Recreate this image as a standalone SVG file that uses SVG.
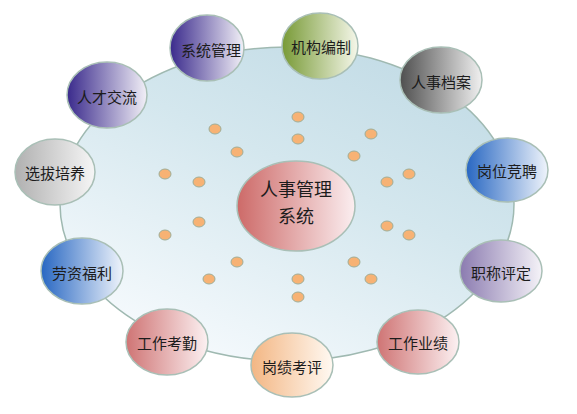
<svg xmlns="http://www.w3.org/2000/svg" width="577" height="414" viewBox="0 0 577 414">
<defs>
<linearGradient id="gBig" x1="0.2" y1="0.95" x2="0.8" y2="0.05">
<stop offset="0" stop-color="#f6fafd"/><stop offset="0.6" stop-color="#d4e7ee"/><stop offset="1" stop-color="#c3dce6"/>
</linearGradient>
<linearGradient id="gCenter" x1="0" y1="0" x2="1" y2="0">
<stop offset="0" stop-color="#cd6a68"/><stop offset="1" stop-color="#fbeef0"/>
</linearGradient>
<linearGradient id="gPurpleD" x1="0" y1="0" x2="1" y2="0">
<stop offset="0" stop-color="#3a2a8c"/><stop offset="1" stop-color="#f2f0f7"/>
</linearGradient>
<linearGradient id="gGreen" x1="0" y1="0" x2="1" y2="0">
<stop offset="0" stop-color="#789a36"/><stop offset="1" stop-color="#f5f7ea"/>
</linearGradient>
<linearGradient id="gGrayD" x1="0" y1="0" x2="1" y2="0">
<stop offset="0" stop-color="#4f4f4f"/><stop offset="1" stop-color="#f0f0f0"/>
</linearGradient>
<linearGradient id="gBlue" x1="0" y1="0" x2="1" y2="0">
<stop offset="0" stop-color="#2867c2"/><stop offset="1" stop-color="#eff4fb"/>
</linearGradient>
<linearGradient id="gPurpleL" x1="0" y1="0" x2="1" y2="0">
<stop offset="0" stop-color="#8b7bb0"/><stop offset="1" stop-color="#f5f3f8"/>
</linearGradient>
<linearGradient id="gRed" x1="0" y1="0" x2="1" y2="0">
<stop offset="0" stop-color="#cf7474"/><stop offset="1" stop-color="#fcf1f2"/>
</linearGradient>
<linearGradient id="gOrange" x1="0" y1="0" x2="1" y2="0">
<stop offset="0" stop-color="#f3b683"/><stop offset="1" stop-color="#fff9f2"/>
</linearGradient>
<linearGradient id="gGrayL" x1="0" y1="0" x2="1" y2="0">
<stop offset="0" stop-color="#b0b0b0"/><stop offset="1" stop-color="#f6f6f6"/>
</linearGradient>
</defs>
<style>
.bub{stroke:#a9bfb6;stroke-width:1.5}
.lbl{font-family:"Noto Sans CJK SC","Noto Sans CJK TC",sans-serif;font-size:15px;fill:#1c1c1c;text-anchor:middle;dominant-baseline:central}
.ctr{font-family:"Noto Sans CJK SC","Noto Sans CJK TC",sans-serif;font-size:18px;fill:#1c1c1c;text-anchor:middle;dominant-baseline:central}
.dot{fill:#f7b274;stroke:#9fae98;stroke-width:1}
</style>
<g id="background">
<ellipse cx="287" cy="204" rx="227" ry="157" fill="url(#gBig)" stroke="#9fb9b1" stroke-width="1.5"/>
</g>
<g id="dots">
<ellipse class="dot" cx="298" cy="117" rx="6" ry="5"/>
<ellipse class="dot" cx="298" cy="139" rx="6" ry="5"/>
<ellipse class="dot" cx="215" cy="129" rx="6" ry="5"/>
<ellipse class="dot" cx="237" cy="152" rx="6" ry="5"/>
<ellipse class="dot" cx="371" cy="134" rx="6" ry="5"/>
<ellipse class="dot" cx="354" cy="156" rx="6" ry="5"/>
<ellipse class="dot" cx="165" cy="174" rx="6" ry="5"/>
<ellipse class="dot" cx="199" cy="182" rx="6" ry="5"/>
<ellipse class="dot" cx="387" cy="182" rx="6" ry="5"/>
<ellipse class="dot" cx="409" cy="174" rx="6" ry="5"/>
<ellipse class="dot" cx="199" cy="222" rx="6" ry="5"/>
<ellipse class="dot" cx="165" cy="235" rx="6" ry="5"/>
<ellipse class="dot" cx="387" cy="226" rx="6" ry="5"/>
<ellipse class="dot" cx="409" cy="235" rx="6" ry="5"/>
<ellipse class="dot" cx="237" cy="262" rx="6" ry="5"/>
<ellipse class="dot" cx="354" cy="262" rx="6" ry="5"/>
<ellipse class="dot" cx="209" cy="279" rx="6" ry="5"/>
<ellipse class="dot" cx="298" cy="279" rx="6" ry="5"/>
<ellipse class="dot" cx="371" cy="279" rx="6" ry="5"/>
<ellipse class="dot" cx="298" cy="297" rx="6" ry="5"/>
</g>
<g id="center">
<ellipse class="bub" cx="296" cy="206" rx="59" ry="45" fill="url(#gCenter)"/>
<text class="ctr" x="296" y="188">人事管理</text>
<text class="ctr" x="296" y="215">系统</text>
</g>
<g id="n-xitongguanli">
<ellipse class="bub" cx="207" cy="48" rx="37" ry="33" fill="url(#gPurpleD)"/>
<text class="lbl" x="211" y="49">系统管理</text>
</g>
<g id="n-jigoubianzhi">
<ellipse class="bub" cx="320" cy="46" rx="38" ry="33" fill="url(#gGreen)"/>
<text class="lbl" x="321" y="46">机构编制</text>
</g>
<g id="n-renshidangan">
<ellipse class="bub" cx="441" cy="80" rx="41" ry="33" fill="url(#gGrayD)"/>
<text class="lbl" x="441" y="81">人事档案</text>
</g>
<g id="n-gangweijingpin">
<ellipse class="bub" cx="507" cy="170" rx="41" ry="32" fill="url(#gBlue)"/>
<text class="lbl" x="507" y="170">岗位竞聘</text>
</g>
<g id="n-zhichengpingding">
<ellipse class="bub" cx="501" cy="271" rx="41" ry="31" fill="url(#gPurpleL)"/>
<text class="lbl" x="501" y="272">职称评定</text>
</g>
<g id="n-gongzuoyeji">
<ellipse class="bub" cx="418" cy="342" rx="41" ry="32" fill="url(#gRed)"/>
<text class="lbl" x="418" y="342">工作业绩</text>
</g>
<g id="n-gangjikaoping">
<ellipse class="bub" cx="292" cy="365" rx="41" ry="32" fill="url(#gOrange)"/>
<text class="lbl" x="292" y="366">岗绩考评</text>
</g>
<g id="n-gongzuokaoqin">
<ellipse class="bub" cx="167" cy="342" rx="41" ry="33" fill="url(#gRed)"/>
<text class="lbl" x="167" y="342">工作考勤</text>
</g>
<g id="n-laozifuli">
<ellipse class="bub" cx="82" cy="271" rx="41" ry="33" fill="url(#gBlue)"/>
<text class="lbl" x="82" y="272">劳资福利</text>
</g>
<g id="n-xuanbapeiyang">
<ellipse class="bub" cx="55" cy="172" rx="40" ry="33" fill="url(#gGrayL)"/>
<text class="lbl" x="55" y="172">选拔培养</text>
</g>
<g id="n-rencaijiaoliu">
<ellipse class="bub" cx="107" cy="95" rx="40" ry="33" fill="url(#gPurpleD)"/>
<text class="lbl" x="107" y="96">人才交流</text>
</g>
</svg>
